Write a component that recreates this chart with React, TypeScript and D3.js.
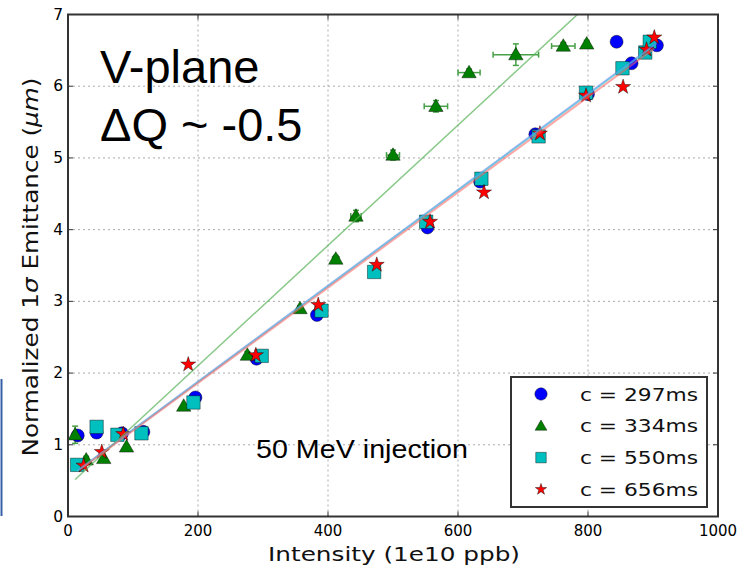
import React from "react";
import * as d3 from "d3";

// ---------- data ----------
const seriesLabels = ["c = 297ms", "c = 334ms", "c = 550ms", "c = 656ms"];
const seriesColors = ["#0000ff", "#008000", "#00bfbf", "#ff0000"];
const seriesShapes = ["circle", "triangle", "square", "star"];

const blueX = [15, 44, 83, 116, 196, 290, 383, 553, 634, 719, 800, 867, 844, 906];
const blueY = [1.13, 1.17, 1.16, 1.18, 1.66, 2.2, 2.81, 4.03, 4.67, 5.33, 5.89, 6.32, 6.62, 6.57];

const greenX = [11, 28, 55, 90, 178, 276, 357, 412, 443, 500, 566, 617, 689, 762, 798];
const greenY = [1.14, 0.79, 0.81, 0.97, 1.54, 2.25, 2.9, 3.59, 4.19, 5.04, 5.72, 6.19, 6.44, 6.56, 6.59];
const greenXErr = [0, 0, 0, 0, 0, 0, 0, 5, 8, 10, 18, 17, 35, 18, 3];
const greenYErr = [0.12, 0.05, 0, 0, 0, 0.05, 0.04, 0.05, 0.08, 0.07, 0.08, 0.05, 0.15, 0.05, 0.05];

const cyanX = [14, 44, 76, 113, 193, 298, 390, 471, 551, 636, 724, 797, 853, 888, 895];
const cyanY = [0.72, 1.25, 1.14, 1.16, 1.59, 2.24, 2.87, 3.41, 4.11, 4.71, 5.3, 5.91, 6.25, 6.47, 6.62];

const redX = [24, 52, 85, 185, 289, 385, 475, 557, 640, 726, 797, 854, 890, 902];
const redY = [0.71, 0.9, 1.15, 2.12, 2.25, 2.95, 3.51, 4.11, 4.52, 5.34, 5.87, 5.99, 6.51, 6.68];

// linear fits: slope, intercept, x-range
const fitSlopes = [0.00669, 0.00839, 0.00668, 0.00665];
const fitIntercepts = [0.542, 0.424, 0.54, 0.53];
const fitStart = [15, 11, 14, 24];
const fitEnd = [906, 798, 895, 902];
const fitColors = ["#6f6fff", "#55b055", "#40cfcf", "#ff6060"];

const xTicks = [0, 200, 400, 600, 800, 1000];
const yTicks = [0, 1, 2, 3, 4, 5, 6, 7];

const W = 747;
const H = 567;
const xs = d3.scaleLinear().domain([0, 1000]).range([68, 718]);
const ys = d3.scaleLinear().domain([0, 7]).range([516.5, 14.5]);

const symTypes: Record<string, any> = {
  circle: d3.symbolCircle,
  triangle: d3.symbolTriangle,
  square: d3.symbolSquare,
  star: d3.symbolStar,
};
const symSizes: Record<string, number> = { circle: 133, triangle: 90, square: 180, star: 70 };
const legSizes: Record<string, number> = { circle: 120, triangle: 60, square: 110, star: 40 };

function Marker({ shape, color, x, y, size }: any) {
  const d = d3.symbol().type(symTypes[shape]).size(size)()!;
  const dy = shape === "triangle" ? 1 : 0;
  return (
    <path
      d={d}
      transform={`translate(${x},${y + dy})`}
      fill={color}
      stroke="#000"
      strokeOpacity={0.6}
      strokeWidth={0.7}
    />
  );
}

export default function App() {
  const series = [
    { x: blueX, y: blueY },
    { x: greenX, y: greenY },
    { x: cyanX, y: cyanY },
    { x: redX, y: redY },
  ];
  const left = xs(0), right = xs(1000), top = ys(7), bottom = ys(0);
  const capW = 3;

  return (
    <svg
      width={W}
      height={H}
      style={{ position: "absolute", left: 0, top: 0, background: "#fff" }}
      fontFamily="'DejaVu Sans', sans-serif"
    >
      <defs>
        <clipPath id="plotclip">
          <rect x={left} y={top} width={right - left} height={bottom - top} />
        </clipPath>
      </defs>
      <rect x={0} y={0} width={W} height={H} fill="#fff" />
      {/* blue slide bar on the left */}
      <line x1={1.5} x2={1.5} y1={379} y2={516} stroke="#3560a8" strokeWidth={2} />

      {/* grid */}
      {xTicks.slice(1, -1).map((t) => (
        <line key={"gx" + t} x1={xs(t)} x2={xs(t)} y1={top} y2={bottom} stroke="#aaa" strokeWidth={1} strokeDasharray="2,3" />
      ))}
      {yTicks.slice(1, -1).map((t) => (
        <line key={"gy" + t} x1={left} x2={right} y1={ys(t)} y2={ys(t)} stroke="#aaa" strokeWidth={1} strokeDasharray="2,3" />
      ))}

      <g clipPath="url(#plotclip)">
        {/* error bars (green) */}
        {greenX.map((gx, i) => {
          const cx = xs(gx), cy = ys(greenY[i]);
          const els = [];
          if (greenXErr[i] > 0) {
            const x0 = xs(gx - greenXErr[i]), x1 = xs(gx + greenXErr[i]);
            els.push(<line key="h" x1={x0} x2={x1} y1={cy} y2={cy} />);
            els.push(<line key="c1" x1={x0} x2={x0} y1={cy - capW} y2={cy + capW} />);
            els.push(<line key="c2" x1={x1} x2={x1} y1={cy - capW} y2={cy + capW} />);
          }
          if (greenYErr[i] > 0) {
            const y0 = ys(greenY[i] - greenYErr[i]), y1 = ys(greenY[i] + greenYErr[i]);
            els.push(<line key="v" x1={cx} x2={cx} y1={y0} y2={y1} />);
            els.push(<line key="c3" x1={cx - capW} x2={cx + capW} y1={y0} y2={y0} />);
            els.push(<line key="c4" x1={cx - capW} x2={cx + capW} y1={y1} y2={y1} />);
          }
          return (
            <g key={"e" + i} stroke="#1a8a1a" strokeWidth={1.5} opacity={0.8}>
              {els}
            </g>
          );
        })}

        {/* markers */}
        {series.map((s, si) =>
          s.x.map((vx, i) => (
            <Marker key={si + "-" + i} shape={seriesShapes[si]} color={seriesColors[si]} x={xs(vx)} y={ys(s.y[i])} size={symSizes[seriesShapes[si]]} />
          ))
        )}

        {/* fit lines */}
        {fitSlopes.map((m, i) => (
          <line
            key={"fit" + i}
            x1={xs(fitStart[i])}
            y1={ys(fitIntercepts[i] + m * fitStart[i])}
            x2={xs(fitEnd[i])}
            y2={ys(fitIntercepts[i] + m * fitEnd[i])}
            stroke={fitColors[i]}
            strokeWidth={i === 1 ? 1.5 : 2}
            strokeOpacity={i === 1 ? 0.7 : 0.55}
          />
        ))}
      </g>

      {/* frame */}
      <rect x={left} y={top} width={right - left} height={bottom - top} fill="none" stroke="#333" strokeWidth={2} />

      {/* ticks */}
      {xTicks.map((t) => (
        <g key={"xt" + t}>
          <line x1={xs(t)} x2={xs(t)} y1={bottom} y2={bottom - 5} stroke="#333" strokeWidth={1} />
          <line x1={xs(t)} x2={xs(t)} y1={top} y2={top + 5} stroke="#333" strokeWidth={1} />
          <text x={xs(t)} y={536} textAnchor="middle" fontSize={15} fill="#000">{t}</text>
        </g>
      ))}
      {yTicks.map((t) => (
        <g key={"yt" + t}>
          <line x1={left} x2={left + 5} y1={ys(t)} y2={ys(t)} stroke="#333" strokeWidth={1} />
          <line x1={right} x2={right - 5} y1={ys(t)} y2={ys(t)} stroke="#333" strokeWidth={1} />
          <text x={63} y={ys(t)} textAnchor="end" dominantBaseline="central" fontSize={15.5} fill="#000">{t}</text>
        </g>
      ))}

      {/* axis labels */}
      <text x={394} y={561} textAnchor="middle" fontSize={20} fill="#111" textLength={252} lengthAdjust="spacingAndGlyphs">
        Intensity (1e10 ppb)
      </text>
      <text
        transform={`translate(38,267) rotate(-90)`}
        textAnchor="middle"
        fontSize={21}
        fill="#111"
        textLength={379}
        lengthAdjust="spacingAndGlyphs"
      >
        Normalized 1<tspan fontStyle="italic">σ</tspan> Emittance (<tspan fontStyle="italic">μm</tspan>)
      </text>

      {/* annotations */}
      <text x={100} y={83} fontFamily="'Liberation Sans', Arial, sans-serif" fontSize={47} fill="#000">V-plane</text>
      <text x={100} y={141} fontFamily="'Liberation Sans', Arial, sans-serif" fontSize={47} fill="#000">ΔQ ~ -0.5</text>
      <text x={256} y={458} fontFamily="'Liberation Sans', Arial, sans-serif" fontSize={26.5} fill="#000" textLength={212} lengthAdjust="spacingAndGlyphs">
        50 MeV injection
      </text>

      {/* legend */}
      <rect x={511} y={377} width={196} height={130} fill="#fff" stroke="#333" strokeWidth={2} />
      {seriesLabels.map((lab, i) => {
        const ly = 394 + i * 31.8;
        return (
          <g key={"lg" + i}>
            <Marker shape={seriesShapes[i]} color={seriesColors[i]} x={541} y={ly} size={legSizes[seriesShapes[i]]} />
            <text x={580} y={ly} dominantBaseline="central" fontSize={18.5} fill="#111" textLength={118} lengthAdjust="spacingAndGlyphs">
              {lab}
            </text>
          </g>
        );
      })}
    </svg>
  );
}
